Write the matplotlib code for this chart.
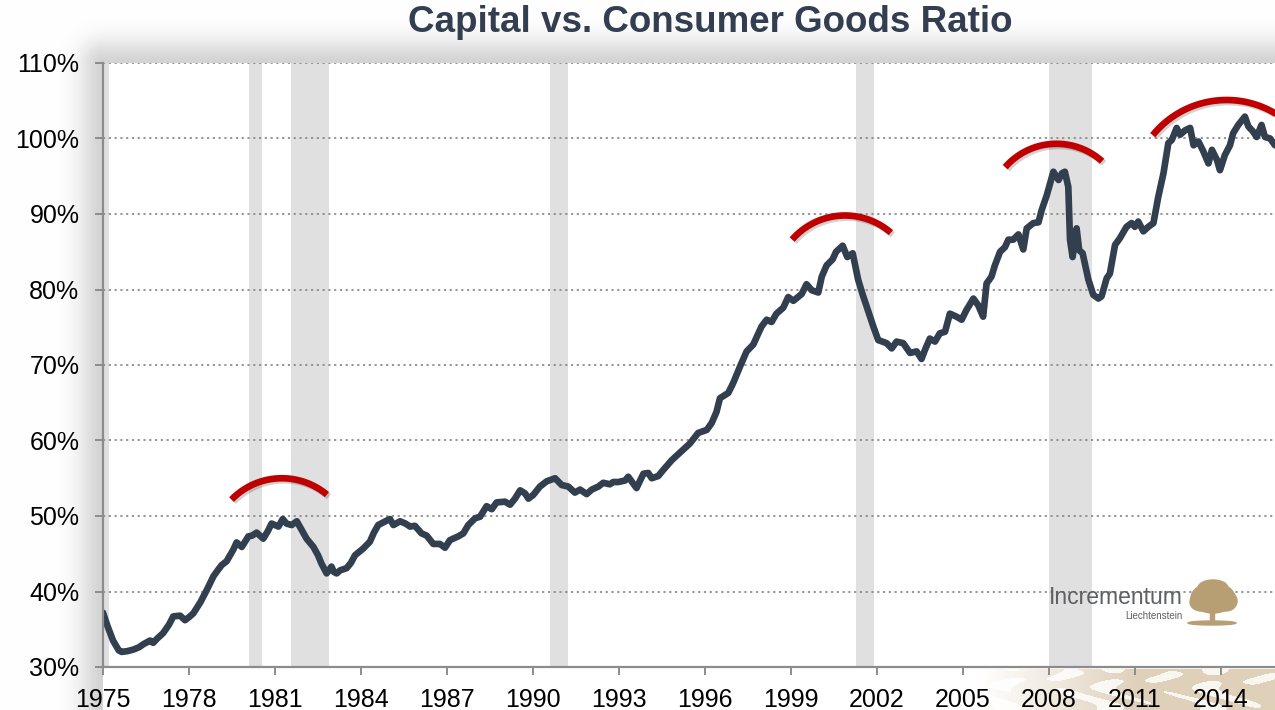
#!/usr/bin/env python3

import numpy as np
import matplotlib
matplotlib.use("Agg")
from matplotlib import pyplot as plt
from matplotlib import patheffects as pe
from matplotlib.patches import Ellipse, Rectangle


# ratio, in percent
years = [1975.00, 1975.15, 1975.35, 1975.55, 1975.65, 1975.85, 1976.05, 1976.25, 1976.40, 1976.64,
         1976.75, 1976.90, 1977.10, 1977.30, 1977.45, 1977.69, 1977.86, 1978.00, 1978.15, 1978.40,
         1978.62, 1978.85, 1979.00, 1979.14, 1979.31, 1979.54, 1979.66, 1979.84, 1980.07, 1980.20,
         1980.36, 1980.59, 1980.75, 1980.88, 1981.12, 1981.27, 1981.40, 1981.58, 1981.76, 1981.95,
         1982.10, 1982.34, 1982.50, 1982.62, 1982.80, 1982.97, 1983.05, 1983.15, 1983.27, 1983.50,
         1983.65, 1983.79, 1984.08, 1984.31, 1984.45, 1984.60, 1984.85, 1985.01, 1985.13, 1985.36,
         1985.55, 1985.71, 1985.88, 1986.11, 1986.29, 1986.52, 1986.75, 1986.93, 1987.10, 1987.39,
         1987.57, 1987.74, 1987.98, 1988.15, 1988.38, 1988.56, 1988.73, 1989.02, 1989.20, 1989.37,
         1989.55, 1989.72, 1989.84, 1990.01, 1990.24, 1990.48, 1990.77, 1991.00, 1991.23, 1991.46,
         1991.64, 1991.87, 1992.05, 1992.28, 1992.45, 1992.68, 1992.80, 1992.97, 1993.21, 1993.32,
         1993.61, 1993.85, 1994.02, 1994.14, 1994.37, 1994.52, 1994.84, 1995.07, 1995.47, 1995.76,
         1996.06, 1996.23, 1996.40, 1996.52, 1996.81, 1996.98, 1997.22, 1997.45, 1997.68, 1997.97,
         1998.15, 1998.32, 1998.49, 1998.73, 1998.90, 1999.08, 1999.37, 1999.54, 1999.72, 1999.95,
         2000.07, 2000.24, 2000.45, 2000.57, 2000.80, 2000.96, 2001.15, 2001.34, 2001.50, 2001.64,
         2001.87, 2002.04, 2002.33, 2002.51, 2002.68, 2002.91, 2003.15, 2003.38, 2003.55, 2003.67,
         2003.84, 2004.02, 2004.19, 2004.37, 2004.54, 2004.77, 2004.95, 2005.12, 2005.36, 2005.53,
         2005.70, 2005.82, 2005.99, 2006.11, 2006.29, 2006.46, 2006.58, 2006.75, 2006.93, 2007.10,
         2007.22, 2007.45, 2007.63, 2007.74, 2007.92, 2008.15, 2008.33, 2008.45, 2008.55, 2008.67,
         2008.73, 2008.82, 2008.96, 2009.05, 2009.17, 2009.37, 2009.54, 2009.72, 2009.83, 2010.01,
         2010.12, 2010.30, 2010.47, 2010.70, 2010.88, 2010.99, 2011.11, 2011.29, 2011.46, 2011.64,
         2011.81, 2011.99, 2012.16, 2012.28, 2012.45, 2012.57, 2012.75, 2012.92, 2013.04, 2013.21,
         2013.38, 2013.56, 2013.68, 2013.85, 2013.96, 2014.13, 2014.31, 2014.42, 2014.60, 2014.83,
         2014.95, 2015.12, 2015.24, 2015.41, 2015.53, 2015.71, 2015.88]
ratio = [37.2, 35.5, 33.5, 32.2, 32.0, 32.1, 32.3, 32.6, 33.0, 33.5,
         33.2, 33.8, 34.5, 35.6, 36.7, 36.8, 36.2, 36.6, 37.1, 38.6,
         40.2, 42.0, 42.8, 43.5, 44.0, 45.5, 46.5, 45.9, 47.3, 47.4,
         47.8, 47.0, 48.0, 49.0, 48.6, 49.6, 49.0, 48.8, 49.3, 48.0,
         47.0, 45.9, 44.8, 43.7, 42.4, 43.3, 42.6, 42.4, 42.8, 43.1,
         43.8, 44.8, 45.7, 46.6, 47.8, 48.8, 49.3, 49.6, 48.8, 49.3,
         49.0, 48.6, 48.7, 47.7, 47.4, 46.3, 46.3, 45.8, 46.8, 47.3,
         47.7, 48.8, 49.7, 49.9, 51.3, 50.9, 51.8, 51.9, 51.5, 52.3,
         53.4, 53.0, 52.3, 52.8, 53.9, 54.6, 55.0, 54.1, 53.9, 53.1,
         53.5, 52.9, 53.5, 53.9, 54.4, 54.2, 54.5, 54.5, 54.7, 55.2,
         53.7, 55.6, 55.7, 55.0, 55.3, 56.0, 57.4, 58.2, 59.6, 61.0,
         61.4, 62.3, 63.8, 65.6, 66.3, 67.6, 69.8, 71.8, 72.7, 75.1,
         76.0, 75.7, 76.8, 77.6, 79.0, 78.5, 79.4, 80.7, 79.9, 79.6,
         81.7, 83.2, 84.0, 85.0, 85.8, 84.3, 84.8, 81.3, 79.3, 77.7,
         75.1, 73.3, 72.9, 72.2, 73.1, 72.9, 71.6, 71.8, 70.8, 72.0,
         73.5, 73.1, 74.2, 74.4, 76.8, 76.4, 76.0, 77.3, 78.8, 77.9,
         76.4, 80.8, 81.7, 83.2, 85.0, 85.6, 86.6, 86.6, 87.3, 85.3,
         88.1, 88.8, 88.9, 90.5, 92.5, 95.6, 94.5, 95.4, 95.6, 93.6,
         86.6, 84.3, 88.1, 85.2, 84.8, 81.3, 79.3, 78.8, 79.1, 81.5,
         82.1, 85.9, 86.8, 88.3, 88.8, 88.3, 89.0, 87.7, 88.3, 88.8,
         92.3, 95.4, 99.4, 99.8, 101.4, 100.5, 101.1, 101.4, 99.1, 99.6,
         98.3, 96.7, 98.5, 97.2, 95.8, 97.8, 99.1, 100.7, 101.8, 102.9,
         101.6, 100.9, 100.2, 101.8, 100.2, 100.0, 99.1]

# recessions (start, end)
rec_start = [1974.90, 1980.09, 1981.56, 1990.59, 2001.26, 2007.99]
rec_end = [1975.22, 1980.55, 1982.88, 1991.22, 2001.89, 2009.49]

# red "topping" arcs: top year, top value
arc_year = [1981.24, 2000.88, 2008.26, 2014.19]
arc_top = [55.0, 89.8, 99.3, 105.1]

xtick_years = list(range(1975, 2016, 3))
ytick_vals = list(range(30, 111, 10))

W, H = 1275, 710
X0, Y0, Y1 = 103, 63, 667
XMIN, XMAX = 1975.0, 2015.88
LINE_COL = "#323F4F"

plt.rcParams['font.family'] = ['Liberation Sans', 'DejaVu Sans']

fig = plt.figure(figsize=(W / 100, H / 100), dpi=100)

# soft shadow round the plot area and the beige strip bottom right
bg = fig.add_axes([0, 0, 1, 1], zorder=-10)
yy, xx = np.mgrid[0:H, 0:W]
dx = np.clip(X0 - xx, 0, None).astype(float)
dy = np.clip(Y0 - yy, 0, None).astype(float)
d = np.hypot(dx, dy)
shade = np.where(d > 0, 0.17 * np.exp(-d ** 2 / (2 * 17.0 ** 2)), 0.0)
img = np.ones((H, W, 3)) * (1 - shade)[..., None]
beige = np.array([0.84, 0.77, 0.66])
a = np.clip((xx - 980) / 160.0, 0, 1) * (yy > 668)
mott = 0.5 + 0.5 * np.sin(xx / 11.0 + np.sin(yy / 6.0) * 2) * np.cos(yy / 7.0 - xx / 29.0)
a = a * np.where(mott > 0.35, 0.8, 0.15)
img = img * (1 - a[..., None]) + beige * a[..., None]
bg.imshow(img, extent=(0, W, H, 0), aspect='auto', interpolation='bilinear')
bg.set_xlim(0, W)
bg.set_ylim(H, 0)
bg.axis('off')

ax = fig.add_axes([X0 / W, 1 - Y1 / H, 1 - X0 / W, (Y1 - Y0) / H])
ax.set_facecolor('white')

for s, e in zip(rec_start, rec_end):
    ax.axvspan(s, e, color='#E0E0E0', lw=0, zorder=1)

for v in ytick_vals[1:]:
    ax.axhline(v, color='#8C8C8C', lw=1.3, ls=(0, (1.2, 2.0)), zorder=2)

ax.plot(years, ratio, color=LINE_COL, lw=4.8, solid_joinstyle='round',
        solid_capstyle='round', zorder=4)

# arcs drawn as circle segments (radius in pixels)
px_per_year = (W - X0) / (XMAX - XMIN)
px_per_pct = (Y1 - Y0) / 80.0
arc_r = [70, 70, 68, 95]
arc_a0 = [-46, -49, -49, -51]
arc_a1 = [40, 41, 42, 40]
for xc, yt, r, a0, a1 in zip(arc_year, arc_top, arc_r, arc_a0, arc_a1):
    t = np.radians(np.linspace(a0, a1, 80))
    ax.plot(xc + r * np.sin(t) / px_per_year, yt - r * (1 - np.cos(t)) / px_per_pct,
            color='#C00000', lw=4.8, solid_capstyle='butt', zorder=5, clip_on=False,
            path_effects=[pe.SimpleLineShadow(offset=(1.5, -1.5), alpha=0.18, shadow_color='black'),
                          pe.Normal()])

ax.set_xlim(XMIN, XMAX)
ax.set_ylim(30, 110)
ax.set_xticks(xtick_years)
ax.set_xticklabels([str(y) for y in xtick_years])
ax.set_yticks(ytick_vals)
ax.set_yticklabels([f"{v}%" for v in ytick_vals])

for side in ['top', 'right']:
    ax.spines[side].set_visible(False)
for side in ['left', 'bottom']:
    ax.spines[side].set_color('#8C8C8C')
    ax.spines[side].set_linewidth(1.6)
    ax.spines[side].set_zorder(6)
ax.tick_params(axis='y', length=6, width=1.4, color='#8C8C8C', pad=11, labelsize=18,
               labelcolor='black')
ax.tick_params(axis='x', length=5.5, width=1.4, color='#8C8C8C', pad=9.5, labelsize=18,
               labelcolor='black')

fig.text(710 / W, 1 - 22 / H, "Capital vs. Consumer Goods Ratio", ha='center', va='center',
         fontsize=26.5, fontweight='bold', color='#333F50')

# Incrementum logo
fig.text(1183 / W, 1 - 598 / H, "Incrementum", ha='right', va='center', fontsize=16.5,
         color='#5F6062')
fig.text(1183 / W, 1 - 616 / H, "Liechtenstein", ha='right', va='center', fontsize=7,
         color='#5F6062')
tree = '#B89E73'
for cx, cy, w, h in [(1213, 598, 44, 30), (1201, 602, 22, 18), (1226, 601, 22, 20),
                     (1213, 588, 30, 16)]:
    fig.patches.append(Ellipse((cx / W, 1 - cy / H), w / W, h / H, color=tree,
                               transform=fig.transFigure, zorder=3))
fig.patches.append(Rectangle((1210 / W, 1 - 623 / H), 4 / W, 14 / H, color=tree,
                             transform=fig.transFigure, zorder=3))
fig.patches.append(Ellipse((1212 / W, 1 - 623 / H), 48 / W, 4 / H, color=tree,
                           transform=fig.transFigure, zorder=3))

fig.savefig("out.png", dpi=100)
